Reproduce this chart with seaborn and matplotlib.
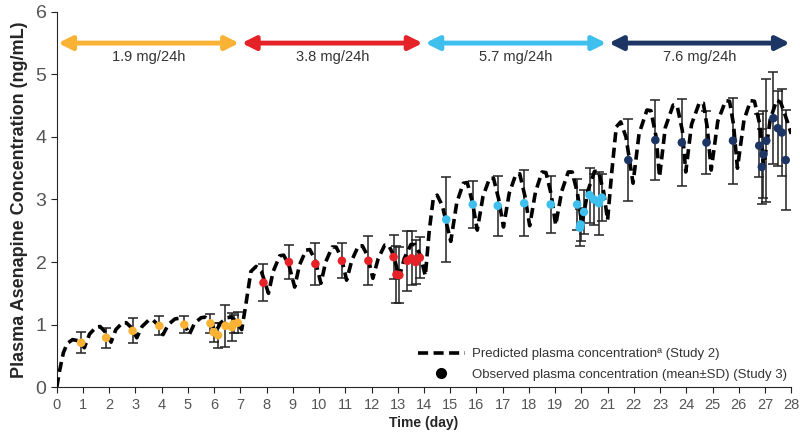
import numpy as np
import pandas as pd
import matplotlib
matplotlib.use('Agg')
import matplotlib.pyplot as plt
from matplotlib.lines import Line2D
import seaborn as sns

# predicted profile (Study 2)
pred_day = [0.0, 0.1, 0.25, 0.4, 0.6, 0.85,
            1.05, 1.25, 1.5, 1.65, 1.85,
            2.07, 2.25, 2.5, 2.65, 2.85,
            3.05, 3.25, 3.5, 3.65, 3.85,
            4.05, 4.25, 4.5, 4.65, 4.85,
            5.05, 5.25, 5.5, 5.65, 5.85,
            6.05, 6.25, 6.5, 6.65, 6.85,
            7.05, 7.2, 7.4, 7.6, 7.8,
            8.07, 8.25, 8.5, 8.65, 8.85,
            9.07, 9.25, 9.5, 9.65, 9.85,
            10.07, 10.25, 10.5, 10.65, 10.85,
            11.05, 11.25, 11.5, 11.65, 11.85,
            12.05, 12.25, 12.5, 12.65, 12.85,
            13.05, 13.25, 13.5, 13.65, 13.85,
            14.05, 14.2, 14.35, 14.5, 14.7,
            15.02, 15.25, 15.5, 15.65, 15.85,
            16.03, 16.25, 16.5, 16.65, 16.85,
            17.03, 17.25, 17.5, 17.65, 17.85,
            18.03, 18.25, 18.5, 18.65, 18.85,
            19.02, 19.25, 19.5, 19.65, 19.85,
            20.02, 20.25, 20.5, 20.65, 20.85,
            21.0, 21.15, 21.33, 21.5, 21.7,
            21.97, 22.2, 22.5, 22.65, 22.85,
            22.98, 23.2, 23.5, 23.65, 23.85,
            23.98, 24.2, 24.5, 24.65, 24.8,
            24.95, 25.2, 25.5, 25.65, 25.8,
            25.95, 26.2, 26.45, 26.6, 26.8,
            26.95, 27.2, 27.45, 27.6, 27.85, 28.0]
pred_conc = [0.0, 0.25, 0.55, 0.70, 0.76, 0.74,
             0.63, 0.85, 0.96, 0.97, 0.88,
             0.72, 0.92, 1.03, 1.03, 0.95,
             0.79, 0.97, 1.07, 1.08, 1.00,
             0.84, 1.00, 1.09, 1.10, 1.03,
             0.84, 1.02, 1.11, 1.12, 1.05,
             0.88, 1.03, 1.11, 1.12, 1.05,
             0.92, 1.30, 1.85, 1.93, 1.85,
             1.50, 1.85, 2.10, 2.11, 1.95,
             1.60, 1.95, 2.19, 2.20, 2.03,
             1.66, 2.00, 2.24, 2.24, 2.07,
             1.71, 2.03, 2.26, 2.26, 2.10,
             1.74, 2.05, 2.27, 2.27, 2.10,
             1.75, 2.06, 2.28, 2.28, 2.12,
             1.78, 2.50, 3.00, 3.07, 2.90,
             2.33, 2.95, 3.26, 3.27, 2.95,
             2.51, 3.05, 3.34, 3.34, 3.00,
             2.56, 3.10, 3.40, 3.41, 3.05,
             2.58, 3.12, 3.44, 3.43, 3.08,
             2.59, 3.13, 3.44, 3.44, 3.10,
             2.60, 3.14, 3.45, 3.45, 3.12,
             2.67, 3.40, 4.16, 4.24, 4.00,
             3.26, 4.05, 4.43, 4.42, 4.00,
             3.36, 4.15, 4.51, 4.50, 4.10,
             3.44, 4.20, 4.55, 4.54, 4.15,
             3.47, 4.25, 4.58, 4.57, 4.20,
             3.50, 4.27, 4.58, 4.57, 4.20,
             3.52, 4.28, 4.59, 4.55, 4.25, 4.05]

# observed mean +/- SD (Study 3)
obs_day = [0.93, 1.88, 2.89, 3.91, 4.86, 5.86, 5.98, 6.15, 6.43, 6.68, 6.74, 6.9,
           7.88, 8.85, 9.86, 10.87, 11.88, 12.84, 12.95, 13.06, 13.37, 13.53, 13.69, 13.84,
           14.85, 15.86, 16.81, 17.82, 18.83, 19.84, 19.94, 19.97, 20.1, 20.31, 20.48, 20.67, 20.78,
           21.79, 22.82, 23.83, 24.77, 25.78, 26.78, 26.88, 26.94, 27.05, 27.32, 27.49, 27.64, 27.79]
obs_mean = [0.71, 0.79, 0.90, 0.98, 1.00, 1.02, 0.88, 0.83, 0.98, 0.96, 1.01, 1.03,
            1.67, 2.00, 1.97, 2.02, 2.02, 2.08, 1.80, 1.79, 2.02, 2.06, 2.00, 2.07,
            2.68, 2.92, 2.90, 2.94, 2.92, 2.92, 2.55, 2.60, 2.80, 3.07, 3.00, 2.94, 3.03,
            3.63, 3.95, 3.91, 3.91, 3.94, 3.86, 3.52, 3.72, 3.94, 4.30, 4.14, 4.07, 3.63]
obs_sd = [0.17, 0.16, 0.20, 0.15, 0.14, 0.15, 0.15, 0.20, 0.33, 0.22, 0.15, 0.17,
          0.30, 0.27, 0.33, 0.28, 0.39, 0.35, 0.45, 0.45, 0.48, 0.43, 0.35, 0.33,
          0.68, 0.37, 0.48, 0.53, 0.46, 0.40, 0.30, 0.26, 0.35, 0.44, 0.40, 0.50, 0.37,
          0.65, 0.64, 0.70, 0.50, 0.69, 0.50, 0.60, 0.70, 0.98, 0.73, 0.60, 0.70, 0.80]
obs_dose = ['1.9'] * 12 + ['3.8'] * 12 + ['5.7'] * 13 + ['7.6'] * 13

dose_labels = ['1.9 mg/24h', '3.8 mg/24h', '5.7 mg/24h', '7.6 mg/24h']
dose_keys = ['1.9', '3.8', '5.7', '7.6']
dose_start = [0, 7, 14, 21]
dose_end = [7, 14, 21, 28]
dose_colors = ['#F9B233', '#E52228', '#3EBFEE', '#1C3564']

pred = pd.DataFrame({'day': pred_day, 'conc': pred_conc})
obs = pd.DataFrame({'day': obs_day, 'mean': obs_mean, 'sd': obs_sd, 'dose': obs_dose})

sns.set_style('ticks')
plt.rcParams['font.family'] = ['Liberation Sans', 'DejaVu Sans']

fig = plt.figure(figsize=(8, 4.37), dpi=100)
ax = fig.add_axes([0.071, 0.114, 0.918, 0.859])

ax.errorbar(obs['day'], obs['mean'], yerr=obs['sd'], fmt='none', ecolor='#222222',
            elinewidth=1.1, capsize=3.5, capthick=1.1, zorder=2)
sns.lineplot(data=pred, x='day', y='conc', color='black', lw=2.6, ax=ax, zorder=3,
             dashes=False, estimator=None, sort=False)
ax.lines[-1].set_dashes((2.8, 1.5))
sns.scatterplot(data=obs, x='day', y='mean', hue='dose', palette=dict(zip(dose_keys, dose_colors)),
                s=38, edgecolor='none', legend=False, ax=ax, zorder=4)

# dose arrows
for lab, x0, x1, c in zip(dose_labels, dose_start, dose_end, dose_colors):
    ax.annotate('', xy=(x0 + 0.05, 5.5), xytext=(x1 - 0.05, 5.5),
                arrowprops=dict(arrowstyle='<|-|>', color=c, lw=3.5, mutation_scale=20,
                                shrinkA=0, shrinkB=0))
    ax.text((x0 + x1) / 2, 5.27, lab, ha='center', va='center', fontsize=10.5, color='#333333')

ax.set_xlim(0, 28)
ax.set_ylim(0, 6)
ax.set_xticks(range(0, 29))
ax.set_yticks(range(0, 7))
ax.tick_params(axis='x', labelsize=10.5, colors='#222222', labelcolor='#555555', length=4)
ax.tick_params(axis='y', labelsize=14, colors='#222222', labelcolor='#555555', length=4)
ax.set_xlabel('Time (day)', fontsize=10, fontweight='bold', labelpad=3)
ax.set_ylabel('Plasma Asenapine Concentration (ng/mL)', fontsize=13, fontweight='bold', labelpad=5)
sns.despine(ax=ax)

handles = [Line2D([0], [0], color='black', lw=2.6, dashes=(2.8, 1.5)),
           Line2D([0], [0], color='black', marker='o', ls='none', markersize=7)]
ax.legend(handles, ['Predicted plasma concentrationª (Study 2)',
                    'Observed plasma concentration (mean±SD) (Study 3)'],
          loc='lower right', bbox_to_anchor=(1.01, -0.015), frameon=False, fontsize=9.5,
          handlelength=3.6, handletextpad=0.5, labelspacing=0.65, labelcolor='#333333')

fig.savefig('out.png', dpi=100)
